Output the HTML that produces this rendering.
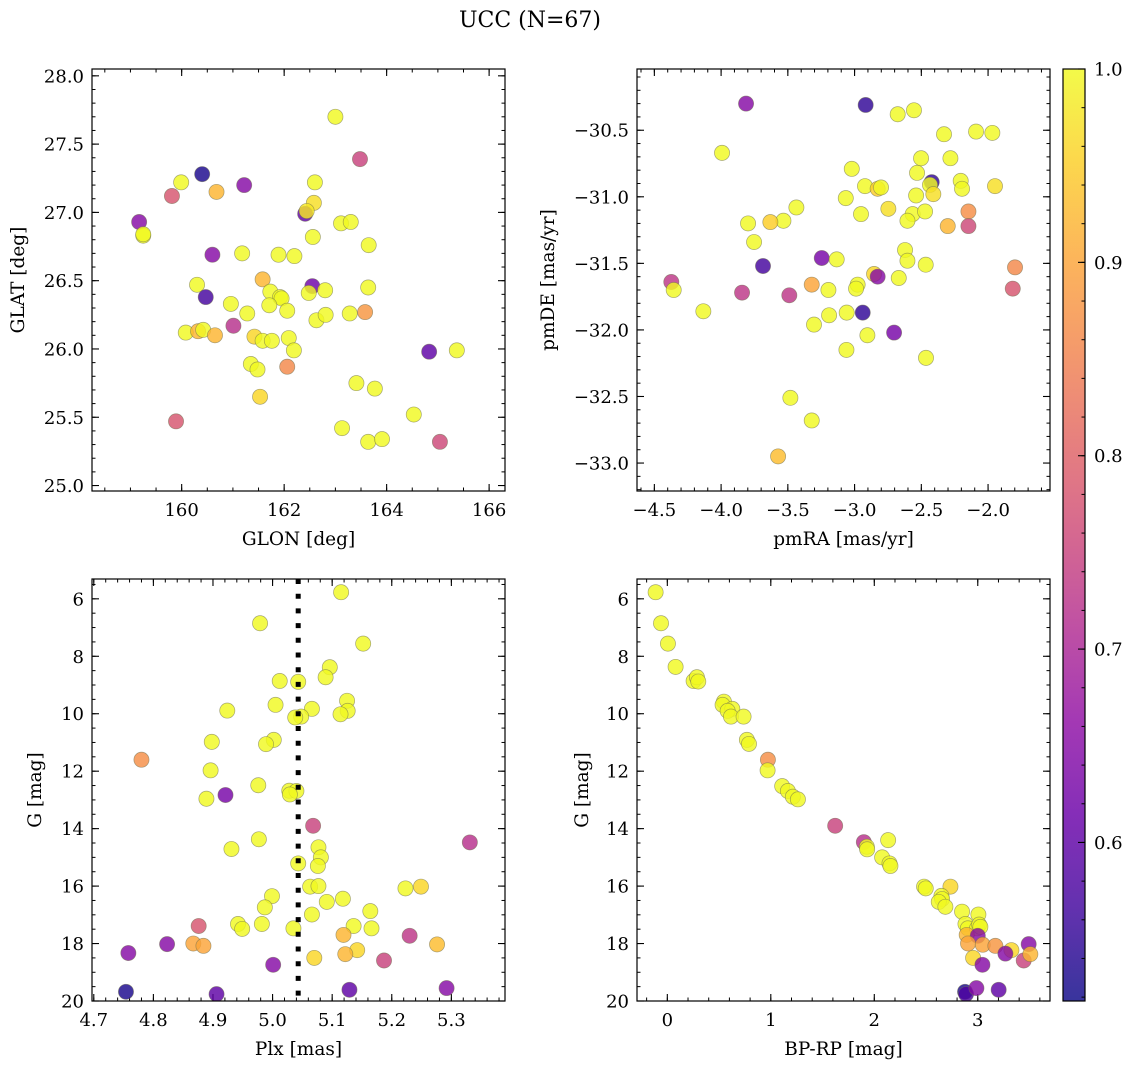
<!DOCTYPE html>
<html><head><meta charset="utf-8">
<style>
html,body{margin:0;padding:0;background:#fff;}
svg{display:block;font-family:"DejaVu Serif","Liberation Serif",serif;}
</style></head>
<body>
<svg id="fig" width="1136" height="1068" viewBox="0 0 1136 1068" xmlns="http://www.w3.org/2000/svg">
<text x="530" y="27" font-size="22" text-anchor="middle">UCC (N=67)</text>
</svg>
<script>
// ---- Panel 1: GLON vs GLAT ----
const p1_glon = [163.00,163.48,160.40,159.99,161.22,162.60,159.81,160.68,162.58,162.41,162.44,159.17,159.25,163.11,163.30,162.56,163.65,160.60,161.18,161.89,162.20,161.58,160.30,162.55,160.47,161.73,162.80,163.64,162.48,161.92,161.95,160.96,161.71,162.06,161.28,162.63,162.81,163.28,163.58,161.01,160.08,160.32,160.42,160.65,161.42,161.58,161.76,162.09,162.19,164.83,165.37,161.35,161.48,162.06,163.41,163.77,161.53,164.53,159.89,163.13,163.64,163.91,165.04,159.25];
const p1_glat = [27.70,27.39,27.28,27.22,27.20,27.22,27.12,27.15,27.07,26.99,27.01,26.93,26.83,26.92,26.93,26.82,26.76,26.69,26.70,26.69,26.68,26.51,26.47,26.46,26.38,26.42,26.43,26.45,26.41,26.38,26.37,26.33,26.32,26.28,26.26,26.21,26.25,26.26,26.27,26.17,26.12,26.13,26.14,26.10,26.09,26.06,26.06,26.08,25.99,25.98,25.99,25.89,25.85,25.87,25.75,25.71,25.65,25.52,25.47,25.42,25.32,25.34,25.32,26.84];
const p1_prob = [1,0.75,0.53,1,0.65,1,0.78,0.92,0.97,0.6,0.98,0.65,1,1,1,1,1,0.65,1,1,1,0.92,1,0.62,0.57,1,1,1,1,1,1,1,1,1,1,1,1,1,0.88,0.72,1,0.92,1,0.92,0.96,1,1,1,1,0.6,1,1,1,0.86,1,1,0.96,1,0.78,1,1,1,0.76,1];
// ---- Panel 2: pmRA vs pmDE ----
const p2_pmra = [-3.813,-2.917,-2.677,-2.555,-2.330,-2.090,-1.968,-3.993,-2.502,-2.282,-3.021,-2.532,-2.422,-2.435,-2.205,-2.195,-2.922,-2.827,-2.802,-2.410,-1.948,-3.066,-2.539,-3.436,-2.747,-2.147,-2.952,-2.565,-2.472,-2.604,-3.533,-3.631,-3.798,-2.302,-2.147,-3.753,-2.622,-2.604,-2.467,-3.686,-3.246,-3.134,-1.798,-4.373,-4.355,-3.843,-3.489,-3.321,-3.196,-2.977,-2.989,-2.854,-2.827,-2.669,-1.815,-4.133,-3.191,-3.059,-2.939,-3.304,-2.704,-2.904,-3.061,-2.465,-3.481,-3.321,-3.573];
const p2_pmde = [-30.30,-30.31,-30.38,-30.35,-30.53,-30.51,-30.52,-30.67,-30.71,-30.71,-30.79,-30.82,-30.89,-30.91,-30.88,-30.94,-30.92,-30.94,-30.93,-30.98,-30.92,-31.01,-30.99,-31.08,-31.09,-31.11,-31.13,-31.13,-31.11,-31.18,-31.18,-31.19,-31.20,-31.22,-31.22,-31.34,-31.40,-31.48,-31.51,-31.52,-31.46,-31.47,-31.53,-31.64,-31.70,-31.72,-31.74,-31.66,-31.70,-31.66,-31.69,-31.58,-31.60,-31.61,-31.69,-31.86,-31.89,-31.87,-31.87,-31.96,-32.02,-32.04,-32.15,-32.21,-32.51,-32.68,-32.95];
const p2_prob = [0.65,0.55,1,1,1,1,1,1,1,1,1,1,0.55,1,1,1,1,0.95,1,0.97,0.97,1,1,1,0.97,0.87,1,1,1,1,1,0.95,1,0.92,0.76,1,1,1,1,0.57,0.63,1,0.86,0.73,1,0.73,0.73,0.9,1,1,1,0.96,0.65,1,0.78,1,1,1,0.55,1,0.63,1,1,1,1,1,0.93];
// ---- Panel 3: Plx vs G ----
const p3_plx = [5.115,4.979,5.152,5.096,5.089,5.012,5.043,5.125,5.005,5.066,4.924,5.126,5.114,5.048,5.038,4.898,5.002,4.989,4.780,4.896,4.976,5.028,5.040,5.029,4.889,4.921,5.068,4.977,4.931,5.331,5.077,5.081,5.076,5.043,5.063,5.077,5.223,5.249,4.999,5.118,5.091,4.987,5.164,5.066,4.876,4.942,4.949,4.982,5.035,5.136,5.166,5.119,5.230,4.867,4.884,4.823,5.276,4.758,5.142,5.122,5.070,5.187,5.001,4.754,4.906,5.129,5.292];
const p3_g = [5.77,6.85,7.56,8.38,8.73,8.86,8.89,9.55,9.69,9.83,9.89,9.90,10.02,10.10,10.13,10.98,10.91,11.06,11.60,11.97,12.49,12.68,12.69,12.81,12.96,12.83,13.90,14.37,14.71,14.48,14.65,15.00,15.30,15.21,16.02,16.00,16.08,16.02,16.35,16.44,16.55,16.74,16.87,16.99,17.39,17.32,17.49,17.32,17.47,17.39,17.47,17.70,17.73,18.00,18.08,18.02,18.03,18.33,18.23,18.37,18.50,18.59,18.74,19.68,19.76,19.61,19.55];
const p3_prob = [1,1,1,1,1,1,1,1,1,1,1,1,1,1,1,1,1,1,0.87,1,1,1,1,1,1,0.63,0.75,1,1,0.72,1,1,1,1,1,1,1,0.96,1,1,1,1,1,1,0.78,1,1,1,1,1,1,0.92,0.73,0.9,0.9,0.65,0.93,0.65,0.96,0.92,0.96,0.75,0.65,0.53,0.6,0.6,0.65];
const plx_median = [5.043];
// ---- Panel 4: BP-RP vs G ----
const p4_bprp = [-0.113,-0.061,0.006,0.080,0.254,0.286,0.299,0.547,0.534,0.628,0.583,0.615,0.737,0.769,0.789,0.972,0.969,1.110,1.165,1.213,1.262,1.622,1.899,1.928,1.931,2.134,2.076,2.147,2.156,2.481,2.497,2.736,2.649,2.655,2.623,2.687,2.848,3.006,2.881,2.904,2.993,3.013,3.025,2.893,3.0,2.906,3.048,3.170,3.325,3.267,3.492,3.444,3.508,2.955,3.045,2.877,2.887,2.987,3.202];
const p4_g = [5.77,6.85,7.56,8.37,8.86,8.73,8.88,9.58,9.69,9.83,9.90,10.10,10.10,10.91,11.05,11.60,11.97,12.52,12.69,12.89,12.98,13.90,14.47,14.63,14.72,14.40,15.00,15.21,15.30,16.02,16.08,16.02,16.34,16.45,16.55,16.72,16.89,16.99,17.32,17.47,17.47,17.34,17.42,17.70,17.73,18.00,18.04,18.08,18.23,18.35,18.02,18.59,18.37,18.50,18.74,19.68,19.76,19.55,19.61];
const p4_prob = [1,1,1,1,1,1,1,1,1,1,1,1,1,1,1,0.87,1,1,1,1,1,0.75,0.72,1,1,1,1,1,1,1,1,0.96,1,1,1,1,1,1,1,1,1,1,1,0.92,0.65,0.9,0.9,0.88,0.96,0.65,0.65,0.75,0.92,0.96,0.65,0.53,0.58,0.65,0.6];
const cb_ticks = [0.6,0.7,0.8,0.9,1.0];
const cb_min = 0.518, cb_max = 1.0;

const NS = "http://www.w3.org/2000/svg";
const svg = document.getElementById('fig');
function mk(tag, attrs, parent){ const e=document.createElementNS(NS,tag); for(const k in attrs) e.setAttribute(k,attrs[k]); (parent||svg).appendChild(e); return e; }

const stops=["#0d0887","#41049d","#6a00a8","#8f0da4","#b12a90","#cc4778","#e16462","#f2844b","#fca636","#fcce25","#f0f921"];
function hex(h){return [parseInt(h.substr(1,2),16),parseInt(h.substr(3,2),16),parseInt(h.substr(5,2),16)];}
function plasma(t){ t=Math.max(0,Math.min(1,t)); const f=t*10, i=Math.min(9,Math.floor(f)), r=f-i; const a=hex(stops[i]), b=hex(stops[i+1]); return `rgb(${a.map((v,k)=>Math.round(v+(b[k]-v)*r)).join(',')})`; }
function pcol(p){ return plasma((p-cb_min)/(cb_max-cb_min)); }
function fmt(v,d){ const s=Math.abs(v).toFixed(d); return (v<-1e-9?'\u2212':'')+s; }
const TFS = 18, LFS = 18.5;

function panel(cfg){
  const {name,L,T,R,B,xd,yd,yinv} = cfg;
  const sx = v => L + (v-xd[0])/(xd[1]-xd[0])*(R-L);
  const sy = yinv ? (v => T + (v-yd[0])/(yd[1]-yd[0])*(B-T)) : (v => B - (v-yd[0])/(yd[1]-yd[0])*(B-T));
  const g = mk('g',{});
  
  
  const xlo=Math.min(...xd), xhi=Math.max(...xd), ylo=Math.min(...yd), yhi=Math.max(...yd);
  const eps=1e-9;
  for(let v=Math.ceil(xlo/cfg.xminor-eps)*cfg.xminor; v<=xhi+eps; v+=cfg.xminor){ const x=sx(v);
    mk('line',{x1:x,x2:x,y1:B,y2:B-3.5,stroke:'#000','stroke-width':1},g); mk('line',{x1:x,x2:x,y1:T,y2:T+3.5,stroke:'#000','stroke-width':1},g);}
  for(let v=Math.ceil(ylo/cfg.yminor-eps)*cfg.yminor; v<=yhi+eps; v+=cfg.yminor){ const y=sy(v);
    mk('line',{x1:L,x2:L+3.5,y1:y,y2:y,stroke:'#000','stroke-width':1},g); mk('line',{x1:R,x2:R-3.5,y1:y,y2:y,stroke:'#000','stroke-width':1},g);}
  cfg.xticks.forEach(v=>{ const x=sx(v);
    mk('line',{x1:x,x2:x,y1:B,y2:B-7,stroke:'#000','stroke-width':1.1},g); mk('line',{x1:x,x2:x,y1:T,y2:T+7,stroke:'#000','stroke-width':1.1},g);
    const t=mk('text',{x:x,y:B+25,'font-size':TFS,'text-anchor':'middle'},g); t.textContent=fmt(v,cfg.xdec);
     });
  cfg.yticks.forEach(v=>{ const y=sy(v);
    mk('line',{x1:L,x2:L+7,y1:y,y2:y,stroke:'#000','stroke-width':1.1},g); mk('line',{x1:R,x2:R-7,y1:y,y2:y,stroke:'#000','stroke-width':1.1},g);
    const t=mk('text',{x:L-8,y:y+6.5,'font-size':TFS,'text-anchor':'end'},g); t.textContent=fmt(v,cfg.ydec);
     });
  const clip = 'clip-'+name;
  const cp = mk('clipPath',{id:clip},g); mk('rect',{x:L,y:T,width:R-L,height:B-T},cp);
  const pg = mk('g',{'clip-path':`url(#${clip})`},g);
  cfg.xs.forEach((xv,i)=>{ const c=mk('circle',{cx:sx(xv),cy:sy(cfg.ys[i]),r:7.6,fill:pcol(cfg.ps[i]),'fill-opacity':0.82,stroke:'#6f6f50','stroke-opacity':0.6,'stroke-width':0.7},pg);
      });
  if(cfg.vline){ const x=sx(cfg.vline[0]); const ln=mk('line',{x1:x,x2:x,y1:T,y2:B,stroke:'#000','stroke-width':5,'stroke-dasharray':'5,9.7'},pg);
      }
  mk('rect',{x:L,y:T,width:R-L,height:B-T,fill:'none',stroke:'#000','stroke-width':1.2},g);
  const xl=mk('text',{x:(L+R)/2,y:B+54,'font-size':LFS,'text-anchor':'middle'},g); xl.textContent=cfg.xlabel;
   
  const yx=cfg.ylx, yc=(T+B)/2;
  const yl=mk('text',{x:yx,y:yc,'font-size':LFS,'text-anchor':'middle',transform:`rotate(-90 ${yx} ${yc})`},g); yl.textContent=cfg.ylabel;
   
}

panel({name:'glon-glat-panel',L:92,T:69,R:505,B:491,xd:[158.25,166.31],yd:[24.96,28.05],xminor:0.5,yminor:0.1,
  xticks:[160,162,164,166],yticks:[25.0,25.5,26.0,26.5,27.0,27.5,28.0],xdec:0,ydec:1,xs:p1_glon,ys:p1_glat,ps:p1_prob,xlabel:'GLON [deg]',ylabel:'GLAT [deg]',ylx:24});
panel({name:'pm-panel',L:637,T:69,R:1050,B:491,xd:[-4.63,-1.536],yd:[-33.21,-30.04],xminor:0.1,yminor:0.1,
  xticks:[-4.5,-4.0,-3.5,-3.0,-2.5,-2.0],yticks:[-33.0,-32.5,-32.0,-31.5,-31.0,-30.5],xdec:1,ydec:1,xs:p2_pmra,ys:p2_pmde,ps:p2_prob,xlabel:'pmRA [mas/yr]',ylabel:'pmDE [mas/yr]',ylx:554});
panel({name:'plx-g-panel',L:92,T:579,R:505,B:1001,xd:[4.697,5.39],yd:[5.31,20.0],yinv:true,xminor:0.02,yminor:0.5,
  xticks:[4.7,4.8,4.9,5.0,5.1,5.2,5.3],yticks:[6,8,10,12,14,16,18,20],xdec:1,ydec:0,xs:p3_plx,ys:p3_g,ps:p3_prob,vline:plx_median,xlabel:'Plx [mas]',ylabel:'G [mag]',ylx:41});
panel({name:'cmd-panel',L:637,T:579,R:1050,B:1001,xd:[-0.293,3.698],yd:[5.31,20.0],yinv:true,xminor:0.2,yminor:0.5,
  xticks:[0,1,2,3],yticks:[6,8,10,12,14,16,18,20],xdec:0,ydec:0,xs:p4_bprp,ys:p4_g,ps:p4_prob,xlabel:'BP-RP [mag]',ylabel:'G [mag]',ylx:588});

(function(){
  const L=1063,R=1085,T=69,B=1001;
  const g=mk('g',{});
  
  
  const defs=mk('defs',{},g);
  const lg=mk('linearGradient',{id:'cbg',x1:0,y1:1,x2:0,y2:0},defs);
  for(let i=0;i<=20;i++){ const f=i/20; mk('stop',{offset:f,'stop-color':plasma(f),'stop-opacity':0.82},lg); }
  mk('rect',{x:L,y:T,width:R-L,height:B-T,fill:'url(#cbg)'},g);
  const sy=v=>B-(v-cb_min)/(cb_max-cb_min)*(B-T);
  for(let v=0.52; v<=1.0001; v+=0.02){ const y=sy(v); mk('line',{x1:R,x2:R-3.5,y1:y,y2:y,stroke:'#000','stroke-width':1},g); }
  cb_ticks.forEach(v=>{ const y=sy(v); mk('line',{x1:R,x2:R-7,y1:y,y2:y,stroke:'#000','stroke-width':1.1},g);
    const t=mk('text',{x:R+9,y:y+6.5,'font-size':TFS},g); t.textContent=v.toFixed(1);
      });
  mk('rect',{x:L,y:T,width:R-L,height:B-T,fill:'none',stroke:'#000','stroke-width':1.2},g);
})();
</script>
</body></html>
